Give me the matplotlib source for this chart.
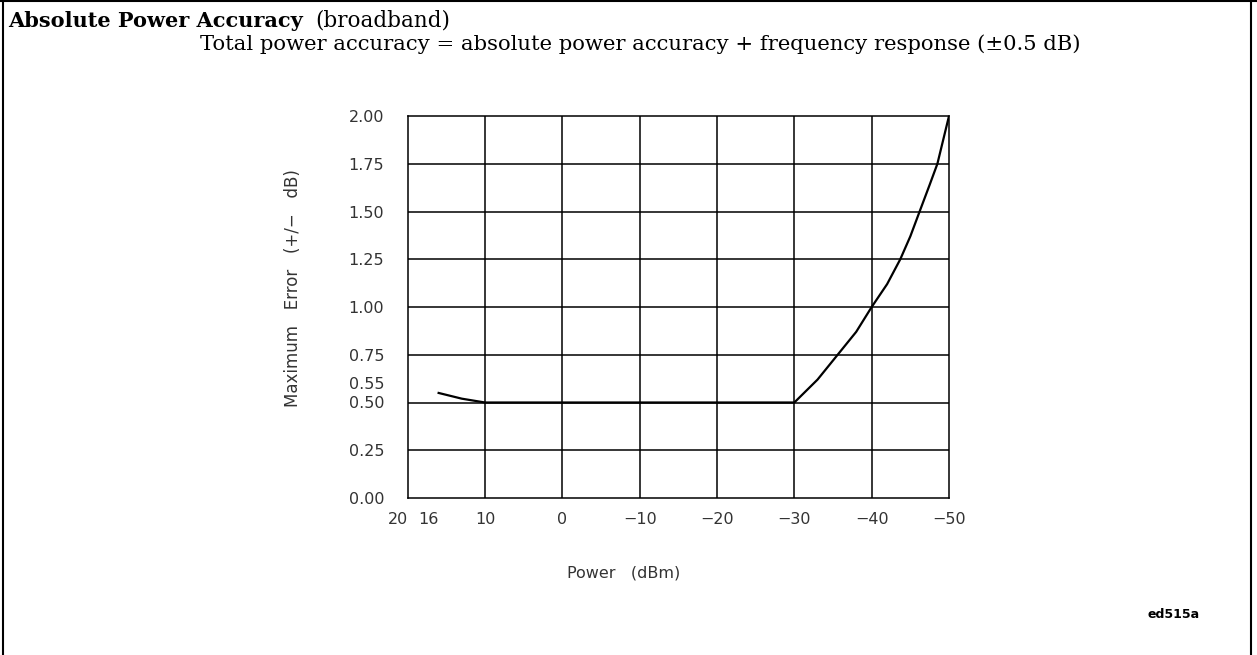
import matplotlib
matplotlib.use("Agg")
from matplotlib import pyplot as plt
from matplotlib.lines import Line2D
from matplotlib.transforms import ScaledTranslation

# chart values
power_ticks = [20, 16, 10, 0, -10, -20, -30, -40, -50]
power_labels = ["20", "16", "10", "0", "\u221210", "\u221220", "\u221230", "\u221240", "\u221250"]
error_ticks = [0.00, 0.25, 0.50, 0.55, 0.75, 1.00, 1.25, 1.50, 1.75, 2.00]
grid_power = [10, 0, -10, -20, -30, -40]
grid_error = [0.25, 0.50, 0.75, 1.00, 1.25, 1.50, 1.75]

curve_power = [16, 13, 10, -30, -33, -35.6, -38, -40, -42, -43.7, -45, -46.2, -47.5, -48.5, -50]
curve_error = [0.55, 0.52, 0.50, 0.50, 0.62, 0.75, 0.87, 1.00, 1.12, 1.25, 1.37, 1.50, 1.64, 1.75, 2.00]

W, H = 1257, 655
serif = ["DejaVu Serif"]
sans = ["DejaVu Sans"]

fig = plt.figure(figsize=(W / 100, H / 100), dpi=100)
ax = fig.add_axes([407.7 / W, 1 - 498 / H, (949 - 407.7) / W, (498 - 116) / H])

for x in grid_power:
    ax.axvline(x, color="black", lw=1.1)
for y in grid_error:
    ax.axhline(y, color="black", lw=1.1)

ax.plot(curve_power, curve_error, color="black", lw=1.6)

ax.set_xlim(20, -50)
ax.set_ylim(0, 2)
for s in ax.spines.values():
    s.set_linewidth(1.1)

ax.set_xticks(power_ticks)
ax.set_xticklabels(power_labels, family=sans, fontsize=11.5, color="#333333")
ax.set_yticks(error_ticks)
ax.set_yticklabels(["%.2f" % v for v in error_ticks], family=sans, fontsize=11.5, color="#333333")
ax.tick_params(axis="x", length=0, pad=10)
ax.tick_params(axis="y", length=0, pad=17)

# nudge crowded labels like in the original drawing
for lab, dx in zip(ax.get_xticklabels()[:2], [-10, -10]):
    lab.set_transform(lab.get_transform() + ScaledTranslation(dx / 100, 0, fig.dpi_scale_trans))
lab = ax.get_yticklabels()[3]
lab.set_transform(lab.get_transform() + ScaledTranslation(0, 10 / 100, fig.dpi_scale_trans))

fig.text(293 / W, 1 - 288 / H, "Maximum   Error   (+/\u2212   dB)", rotation=90,
         ha="center", va="center", family=sans, fontsize=12, color="#333333")
fig.text(624 / W, 1 - 573 / H, "Power   (dBm)", ha="center", va="center",
         family=sans, fontsize=11.5, color="#333333")
fig.text(1174 / W, 1 - 614 / H, "ed515a", ha="center", va="center",
         family=sans, fontsize=9, fontweight="bold")

# header text
fig.text(8 / W, 1 - 21 / H, "Absolute Power Accuracy", ha="left", va="center",
         family=serif, fontweight="bold", fontsize=15)
fig.text(315 / W, 1 - 21 / H, "(broadband)", ha="left", va="center",
         family=serif, fontsize=15.5)
fig.text(200 / W, 1 - 44 / H,
         "Total power accuracy = absolute power accuracy + frequency response (\u00b10.5 dB)",
         ha="left", va="center", family=serif, fontsize=15.2)

# page frame from the scan
fig.add_artist(Line2D([3 / W, 3 / W], [0, 1], color="black", lw=1.5))
fig.add_artist(Line2D([1251 / W, 1251 / W], [0, 1], color="black", lw=1.5))
fig.add_artist(Line2D([0, 1], [1 - 1 / H, 1 - 1 / H], color="black", lw=1.5))

fig.savefig("out.png", dpi=100)
